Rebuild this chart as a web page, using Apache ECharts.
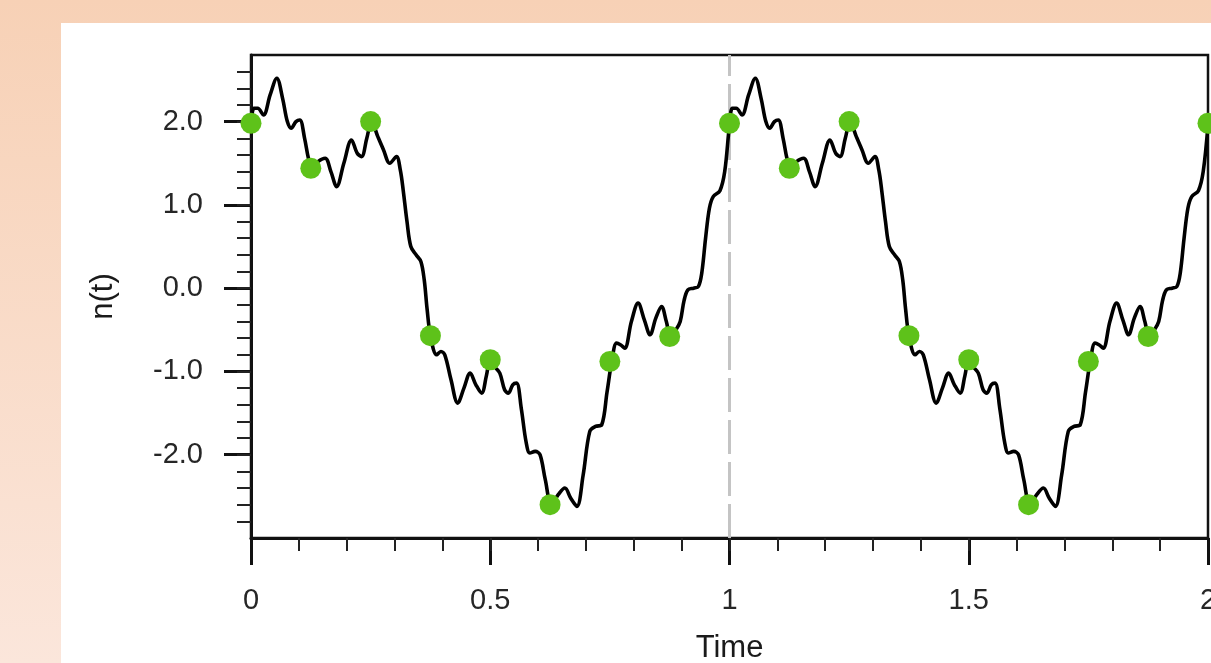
<!DOCTYPE html>
<html>
<head>
<meta charset="utf-8">
<script src="https://cdn.jsdelivr.net/npm/echarts@6/dist/echarts.min.js"></script>
<style>
  html, body { margin: 0; padding: 0; }
  #chart { width: 1211px; height: 663px; }
</style>
</head>
<body>
<div id="chart"></div>
<script>
// Signal n(t) traced over two periods
const timeValues = [
  0.000, 0.006, 0.014, 0.026, 0.040, 0.054, 0.066, 0.076, 0.084, 0.094,
  0.102, 0.112, 0.120, 0.127, 0.140, 0.155, 0.167, 0.179, 0.194, 0.210,
  0.222, 0.231, 0.242, 0.252, 0.265, 0.277, 0.290, 0.304, 0.312, 0.318,
  0.326, 0.334, 0.345, 0.355, 0.362, 0.368, 0.375, 0.388, 0.397, 0.405,
  0.418, 0.432, 0.445, 0.458, 0.470, 0.482, 0.492, 0.500, 0.510, 0.520,
  0.530, 0.538, 0.547, 0.555, 0.565, 0.575, 0.583, 0.594, 0.604, 0.615,
  0.628, 0.642, 0.656, 0.668, 0.681, 0.694, 0.708, 0.720, 0.733, 0.744,
  0.754, 0.764, 0.772, 0.781, 0.795, 0.809, 0.822, 0.834, 0.846, 0.858,
  0.868, 0.877, 0.888, 0.897, 0.905, 0.913, 0.925, 0.935, 0.942, 0.950,
  0.958, 0.966, 0.980, 0.990,
  1.000, 1.006, 1.014, 1.026, 1.040, 1.054, 1.066, 1.076, 1.084, 1.094,
  1.102, 1.112, 1.120, 1.127, 1.140, 1.155, 1.167, 1.179, 1.194, 1.210,
  1.222, 1.231, 1.242, 1.252, 1.265, 1.277, 1.290, 1.304, 1.312, 1.318,
  1.326, 1.334, 1.345, 1.355, 1.362, 1.368, 1.375, 1.388, 1.397, 1.405,
  1.418, 1.432, 1.445, 1.458, 1.470, 1.482, 1.492, 1.500, 1.510, 1.520,
  1.530, 1.538, 1.547, 1.555, 1.565, 1.575, 1.583, 1.594, 1.604, 1.615,
  1.628, 1.642, 1.656, 1.668, 1.681, 1.694, 1.708, 1.720, 1.733, 1.744,
  1.754, 1.764, 1.772, 1.781, 1.795, 1.809, 1.822, 1.834, 1.846, 1.858,
  1.868, 1.877, 1.888, 1.897, 1.905, 1.913, 1.925, 1.935, 1.942, 1.950,
  1.958, 1.966, 1.980, 1.990,
  2.000
];
const signalValues = [
  1.96, 2.16, 2.16, 2.08, 2.32, 2.52, 2.28, 2.00, 1.92, 2.00,
  2.02, 1.80, 1.56, 1.44, 1.52, 1.56, 1.40, 1.22, 1.50, 1.78,
  1.62, 1.58, 1.80, 2.00, 1.82, 1.66, 1.50, 1.58, 1.42, 1.18,
  0.80, 0.50, 0.40, 0.32, 0.10, -0.25, -0.57, -0.80, -0.76, -0.80,
  -1.10, -1.38, -1.20, -1.02, -1.16, -1.26, -1.05, -0.86, -0.95, -1.02,
  -1.22, -1.26, -1.16, -1.14, -1.45, -1.85, -1.98, -1.96, -2.00, -2.30,
  -2.60, -2.48, -2.40, -2.52, -2.62, -2.25, -1.72, -1.66, -1.64, -1.25,
  -0.88, -0.66, -0.68, -0.72, -0.40, -0.18, -0.38, -0.56, -0.36, -0.22,
  -0.40, -0.58, -0.50, -0.40, -0.15, -0.02, 0.00, 0.02, 0.18, 0.60,
  0.96, 1.10, 1.17, 1.40,
  1.96, 2.16, 2.16, 2.08, 2.32, 2.52, 2.28, 2.00, 1.92, 2.00,
  2.02, 1.80, 1.56, 1.44, 1.52, 1.56, 1.40, 1.22, 1.50, 1.78,
  1.62, 1.58, 1.80, 2.00, 1.82, 1.66, 1.50, 1.58, 1.42, 1.18,
  0.80, 0.50, 0.40, 0.32, 0.10, -0.25, -0.57, -0.80, -0.76, -0.80,
  -1.10, -1.38, -1.20, -1.02, -1.16, -1.26, -1.05, -0.86, -0.95, -1.02,
  -1.22, -1.26, -1.16, -1.14, -1.45, -1.85, -1.98, -1.96, -2.00, -2.30,
  -2.60, -2.48, -2.40, -2.52, -2.62, -2.25, -1.72, -1.66, -1.64, -1.25,
  -0.88, -0.66, -0.68, -0.72, -0.40, -0.18, -0.38, -0.56, -0.36, -0.22,
  -0.40, -0.58, -0.50, -0.40, -0.15, -0.02, 0.00, 0.02, 0.18, 0.60,
  0.96, 1.10, 1.17, 1.40,
  1.96
];

// Sampled points (every 1/8)
const sampleTimes = [0, 0.125, 0.25, 0.375, 0.5, 0.625, 0.75, 0.875,
                     1, 1.125, 1.25, 1.375, 1.5, 1.625, 1.75, 1.875, 2];
const sampleValues = [1.98, 1.44, 2.0, -0.57, -0.86, -2.6, -0.88, -0.58,
                      1.98, 1.44, 2.0, -0.57, -0.86, -2.6, -0.88, -0.58, 1.98];

// Axis ticks and labels
const xTickValues = [0, 0.5, 1, 1.5, 2];
const xTickLabels = ['0', '0.5', '1', '1.5', '2'];
const yTickValues = [-2, -1, 0, 1, 2];
const yTickLabels = ['-2.0', '-1.0', '0.0', '1.0', '2.0'];
const xMinorStep = 0.1;
const yMinorStep = 0.2;
const xRange = [0, 2];
const yRange = [-3, 2.8];
const periodMark = 1;

const FONT = '"Liberation Sans", Arial, Helvetica, sans-serif';
const INK = '#111';
const TEXT = '#262626';

function minorTicks(lo, hi, step) {
  const out = [];
  const n = Math.round((hi - lo) / step);
  for (let i = 1; i < n; i++) out.push(+(lo + i * step).toFixed(4));
  return out;
}
function labelFor(values, labels) {
  return v => {
    const i = values.findIndex(t => Math.abs(t - v) < 1e-6);
    return i >= 0 ? labels[i] : '';
  };
}

const lineData = timeValues.map((t, i) => [t, signalValues[i]]);
const dotData = sampleTimes.map((t, i) => [t, sampleValues[i]]);

const chart = echarts.init(document.getElementById('chart'), null, { renderer: 'canvas' });

chart.setOption({
  animation: false,
  backgroundColor: {
    type: 'linear', x: 0, y: 0, x2: 0, y2: 1,
    colorStops: [
      { offset: 0, color: '#F7D1B6' },
      { offset: 1, color: '#FBE6DB' }
    ]
  },
  graphic: [{
    type: 'rect',
    z: -10,
    silent: true,
    shape: { x: 61, y: 23, width: 1150, height: 640 },
    style: { fill: '#ffffff' }
  }],
  grid: {
    left: 251, right: 3, top: 55, bottom: 125,
    containLabel: false,
    outerBoundsMode: 'none',
    show: true,
    borderColor: INK,
    borderWidth: 2.5,
    backgroundColor: 'transparent'
  },
  xAxis: [{
    type: 'value',
    position: 'bottom',
    min: xRange[0], max: xRange[1],
    axisLine: { show: true, onZero: false, lineStyle: { color: INK, width: 3 } },
    axisTick: { show: true, inside: false, length: 27, customValues: xTickValues,
                lineStyle: { color: INK, width: 3 } },
    axisLabel: { customValues: xTickValues, formatter: labelFor(xTickValues, xTickLabels),
                 margin: 48, fontSize: 29, color: TEXT, fontFamily: FONT,
                 showMinLabel: true, showMaxLabel: true, hideOverlap: false },
    splitLine: { show: false },
    name: 'Time',
    nameLocation: 'middle',
    nameGap: 95,
    nameTextStyle: { fontSize: 31, color: '#1a1a1a', fontFamily: FONT }
  }, {
    type: 'value',
    position: 'bottom',
    min: xRange[0], max: xRange[1],
    axisLine: { show: false, onZero: false },
    axisTick: { show: true, inside: false, length: 13, customValues: minorTicks(xRange[0], xRange[1], xMinorStep),
                lineStyle: { color: '#222', width: 2 } },
    axisLabel: { show: false },
    splitLine: { show: false }
  }],
  yAxis: [{
    type: 'value',
    position: 'left',
    min: yRange[0], max: yRange[1],
    axisLine: { show: true, onZero: false, lineStyle: { color: INK, width: 3 } },
    axisTick: { show: true, inside: false, length: 27, customValues: yTickValues,
                lineStyle: { color: INK, width: 3 } },
    axisLabel: { customValues: yTickValues, formatter: labelFor(yTickValues, yTickLabels),
                 margin: 48, fontSize: 29, color: TEXT, fontFamily: FONT },
    splitLine: { show: false },
    name: 'n(t)',
    nameLocation: 'middle',
    nameRotate: 90,
    nameGap: 132,
    nameTextStyle: { fontSize: 31, color: '#1a1a1a', fontFamily: FONT }
  }, {
    type: 'value',
    position: 'left',
    min: yRange[0], max: yRange[1],
    axisLine: { show: false, onZero: false },
    axisTick: { show: true, inside: false, length: 14, customValues: minorTicks(yRange[0], yRange[1], yMinorStep),
                lineStyle: { color: '#222', width: 2 } },
    axisLabel: { show: false },
    splitLine: { show: false }
  }],
  series: [{
    type: 'line',
    data: lineData,
    xAxisIndex: 0, yAxisIndex: 0,
    smooth: 0.35,
    showSymbol: false,
    symbol: 'none',
    clip: true,
    lineStyle: { color: '#000', width: 3.6 },
    z: 3,
    markLine: {
      silent: true,
      symbol: 'none',
      label: { show: false },
      lineStyle: { color: '#c4c4c4', width: 3, type: [34, 8] },
      data: [{ xAxis: periodMark }],
      z: 1
    }
  }, {
    type: 'scatter',
    data: dotData,
    xAxisIndex: 0, yAxisIndex: 0,
    symbol: 'circle',
    symbolSize: 21,
    clip: true,
    itemStyle: { color: '#5EC21A', opacity: 1 },
    z: 4
  }]
});
</script>
</body>
</html>
